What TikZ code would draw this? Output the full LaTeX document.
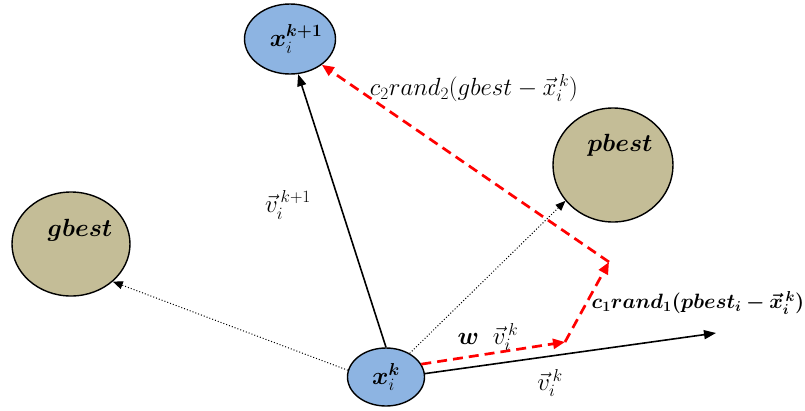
\documentclass[tikz,border=0pt]{standalone}
\usepackage{amsmath,bm}
\usetikzlibrary{arrows.meta,shapes.geometric}
\definecolor{particleblue}{RGB}{141,180,226}
\definecolor{besttan}{RGB}{196,189,151}

\begin{document}
\begin{tikzpicture}[
    x=1pt, y=-1pt,
    font=\fontsize{24}{28}\selectfont,
    particle/.style={draw, ellipse, line width=1.4pt, fill=particleblue, inner sep=0pt},
    best/.style={draw, ellipse, line width=1.4pt, fill=besttan, inner sep=0pt},
    inside/.style={font=\fontsize{27}{32}\selectfont},
    vec/.style={-{Triangle[length=12pt,width=9pt]}, line width=1.6pt},
    hint/.style={-{Triangle[length=10pt,width=8pt]}, line width=1pt, dotted},
    update/.style={-{Triangle[length=12pt,width=10pt]}, line width=2.7pt, red, dash pattern=on 10pt off 6pt}
]
\useasboundingbox (0,0) rectangle (805,410);

% particles and best positions
\node[particle, minimum width=91pt, minimum height=70pt, label={[inside,xshift=6pt]center:$\bm{x}_i^{\bm{k+1}}$}] (xnext) at (290,39) {};
\node[particle, inside, minimum width=77pt, minimum height=58pt] (xk) at (386,377) {$\bm{x}_i^{\bm{k}}$};
\node[best, minimum width=120pt, minimum height=114pt, label={[inside,xshift=7pt,yshift=20pt]center:$\bm{pbest}$}] (pbest) at (613,165) {};
\node[best, minimum width=118pt, minimum height=104pt, label={[inside,xshift=9pt,yshift=14pt]center:$\bm{gbest}$}] (gbest) at (71,244) {};

% corner points of the update path
\coordinate (inertia) at (565,342);
\coordinate (cognitive) at (609,262);
\coordinate (vend) at (716,333);

% velocities
\draw[vec] (xk.north) -- (xnext.283);
\draw[vec] (xk.5) -- (vend);
\draw[hint] (xk.45) -- (pbest.217);
\draw[hint] (xk.170) -- (gbest.318);

% update terms
\draw[update] (xk.20) -- (inertia);
\draw[update] (inertia) -- (cognitive);
\draw[update] (cognitive) -- (xnext.321);

% labels
\node (vnextlbl) at (288,205) {$\vec{v}_i^{\,k+1}$};
\node (vklbl) at (550,383) {$\vec{v}_i^{\,k}$};
\node (wlbl) at (488,337) {$\bm{w}\;\;\vec{v}_i^{\,k}$};
\node (sociallbl) at (474,88) {$c_2rand_2(gbest-\vec{x}_i^{\,k})$};
\node[font=\fontsize{21}{25}\selectfont] (cognitivelbl) at (698,303) {$\bm{c_1rand_1(pbest_i-\vec{x}_i^{\,k})}$};
\end{tikzpicture}
\end{document}
